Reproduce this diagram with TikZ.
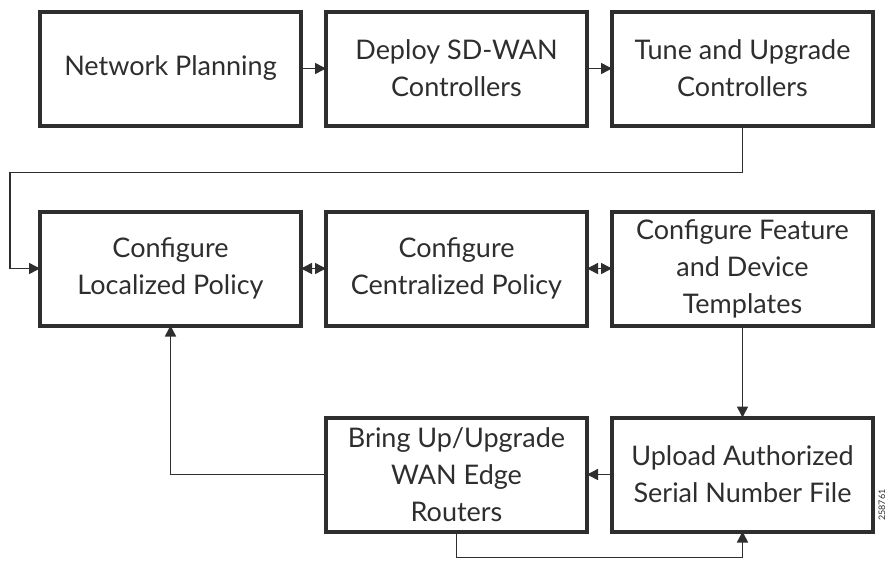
\documentclass[tikz,border=0pt]{standalone}
\usepackage{fontspec}
\setmainfont{Lato}
\usepackage{xcolor}
\usepackage{tikz}
\usetikzlibrary{arrows.meta,positioning,calc}

\definecolor{inkgray}{HTML}{2E2E2E}

\begin{document}
\begin{tikzpicture}[
    font=\fontsize{27}{37}\selectfont,
    stepbox/.style={draw=inkgray, line width=4pt, align=center, outer sep=0pt,
      minimum width=261pt, minimum height=114pt, text=inkgray},
    arr/.style={-{Triangle[length=11pt,width=11pt]}, line width=1.5pt, draw=inkgray},
    dbl/.style={{Triangle[length=11pt,width=11pt]}-{Triangle[length=11pt,width=11pt]},
      line width=1.5pt, draw=inkgray},
    node distance=25pt,
  ]
    \useasboundingbox (0,0) rectangle (890pt,-565pt);

    % first row
    \node[stepbox] (plan) at (170.5pt,-68.5pt) {Network Planning};
    \node[stepbox, right=of plan] (deploy) {Deploy SD-WAN\\Controllers};
    \node[stepbox, right=of deploy] (tune) {Tune and Upgrade\\Controllers};

    % policies and templates
    \node[stepbox, below=86pt of plan] (local) {Configure\\Localized Policy};
    \node[stepbox, right=of local] (central) {Configure\\Centralized Policy};
    \node[stepbox, right=of central] (feature)
      {Configure Feature\\and Device\\Templates};

    % edge routers
    \node[stepbox, below=92pt of feature] (upload)
      {Upload Authorized\\Serial Number File};
    \node[stepbox, below=92pt of central] (bringup)
      {Bring Up/Upgrade\\WAN Edge\\Routers};

    \draw[arr] (plan) -- (deploy);
    \draw[arr] (deploy) -- (tune);
    \draw[arr] (tune.south) -- ++(0,-47pt) -| ([xshift=-30pt]local.west)
      -- (local.west);
    \draw[dbl] (local) -- (central);
    \draw[dbl] (central) -- (feature);
    \draw[arr] (feature) -- (upload);
    \draw[arr] (upload) -- (bringup);
    \draw[arr] (bringup.west) -| (local.south);
    \draw[arr] (bringup.south) -- ++(0,-26pt) -| (upload.south);

    \node[font=\fontsize{9}{10}\selectfont, rotate=90, text=inkgray] (fignum)
      at (882pt,-505pt) {258761};
  \end{tikzpicture}
\end{document}
